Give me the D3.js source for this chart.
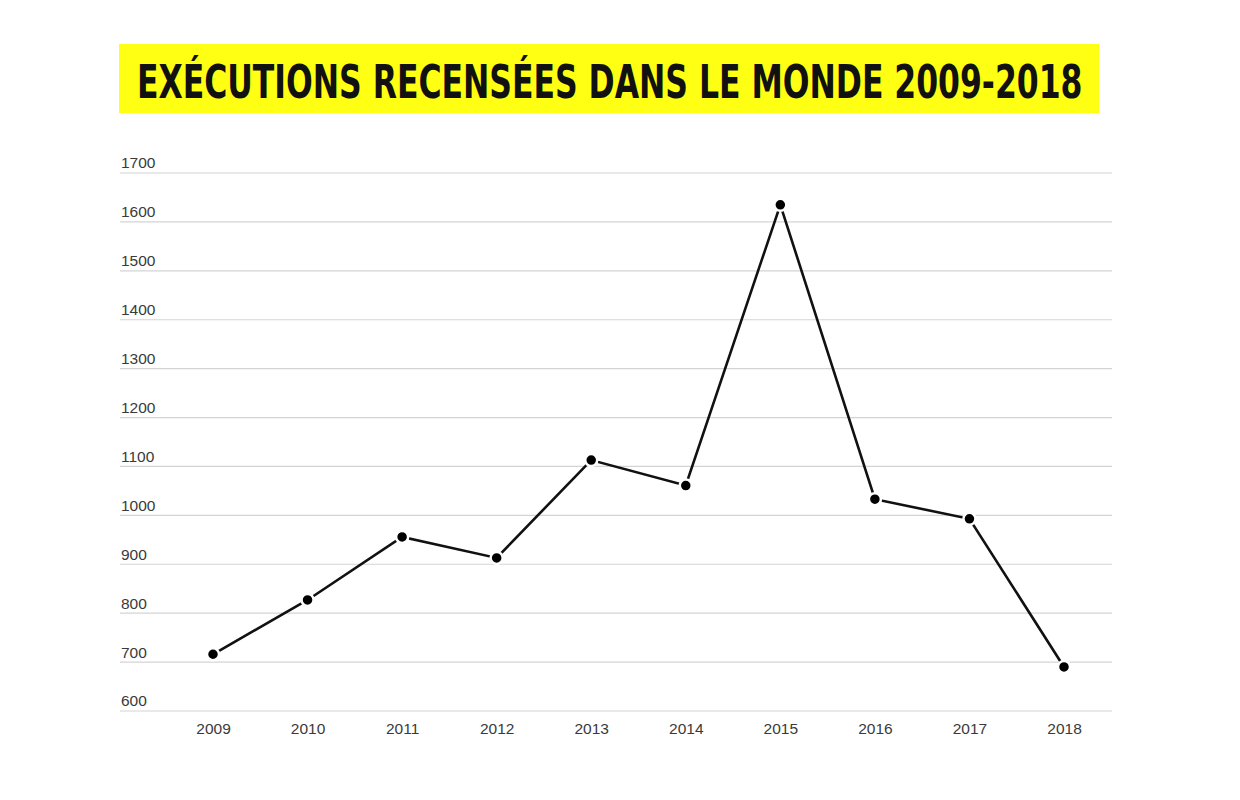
<!DOCTYPE html>
<html><head><meta charset="utf-8">
<script src="https://cdn.jsdelivr.net/npm/d3@7"></script>
<style>
html,body{margin:0;padding:0;background:#fff;}
svg{display:block;}
</style></head>
<body>
<svg id="chart" width="1240" height="800"></svg>
<script>
const titleText = "EXÉCUTIONS RECENSÉES DANS LE MONDE 2009-2018";
const years = ["2009","2010","2011","2012","2013","2014","2015","2016","2017","2018"];
const executions = [716, 827, 956, 913, 1113, 1061, 1635, 1033, 993, 690];
const yTicks = [600,700,800,900,1000,1100,1200,1300,1400,1500,1600,1700];

const svg = d3.select("#chart");

// title banner
svg.append("rect").attr("x",119).attr("y",44).attr("width",980).attr("height",69).attr("fill","#ffff14");
const title = svg.append("text").attr("x",0).attr("y",0)
  .attr("font-family","'DejaVu Sans Condensed','Liberation Sans Narrow',sans-serif")
  .attr("font-weight","bold").attr("font-size",47)
  .attr("fill","#111").text(titleText);
const natural = title.node().getComputedTextLength();
const sx = 946 / natural;
title.attr("transform", `translate(137,98) scale(${sx},1)`);

const x = d3.scalePoint().domain(years).range([213,1064]);
const y = d3.scaleLinear().domain([600,1700]).range([711,173]);

// gridlines
const grid = svg.append("g");
grid.selectAll("line").data(yTicks).join("line")
  .attr("x1",120).attr("x2",1112)
  .attr("y1",d=>y(d)).attr("y2",d=>y(d))
  .attr("stroke","#d4d4d4").attr("stroke-width",1.2);
grid.selectAll("text").data(yTicks).join("text")
  .attr("x",121).attr("y",d=>y(d)-3)
  .attr("font-family","'Liberation Sans',Arial,sans-serif").attr("font-size",15.5)
  .attr("fill","#3a3a3a").text(d=>d).attr("dy","-0.1em");

// x axis labels
const xAxis = d3.axisBottom(x).tickSize(0).tickPadding(0);
const gx = svg.append("g").attr("transform","translate(0,723)").call(xAxis);
gx.select(".domain").remove();
gx.selectAll("text").attr("font-family","'Liberation Sans',Arial,sans-serif")
  .attr("font-size",15.5).attr("fill","#3a3a3a").attr("dy","0.71em");

const data = years.map((yr,i)=>({yr, v:executions[i]}));
svg.append("path").datum(data)
  .attr("fill","none").attr("stroke","#111").attr("stroke-width",2.6)
  .attr("d", d3.line().x(d=>x(d.yr)).y(d=>y(d.v)));
svg.append("g").selectAll("circle").data(data).join("circle")
  .attr("cx",d=>x(d.yr)).attr("cy",d=>y(d.v)).attr("r",6)
  .attr("fill","#000").attr("stroke","#fff").attr("stroke-width",2.5);
</script>
</body></html>
